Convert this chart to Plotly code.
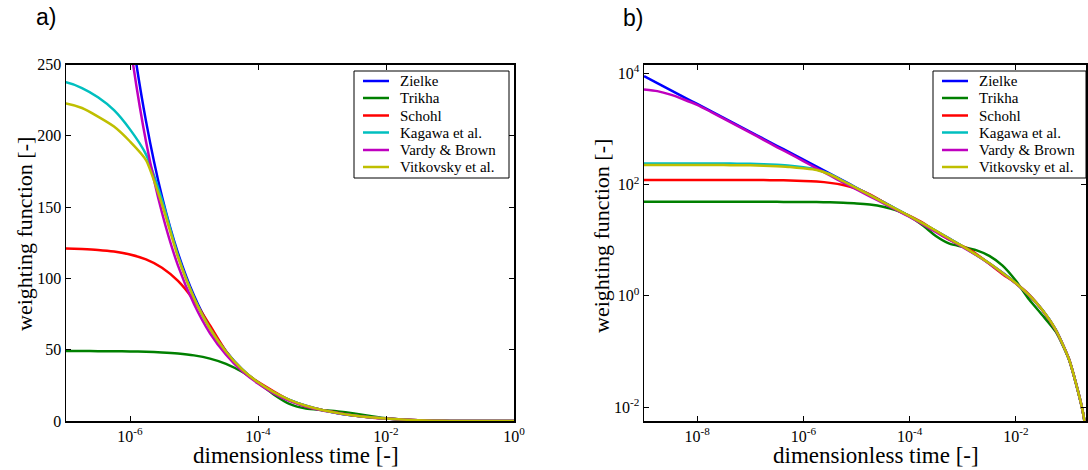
import plotly.graph_objects as go

# dimensionless time (tau), 0.25-decade steps from 1e-9 to 1
tau = [1e-9, 1.778e-9, 3.162e-9, 5.623e-9, 1e-8, 1.778e-8, 3.162e-8, 5.623e-8,
       1e-7, 1.778e-7, 3.162e-7, 5.623e-7, 1e-6, 1.778e-6, 3.162e-6, 5.623e-6,
       1e-5, 1.778e-5, 3.162e-5, 5.623e-5, 1e-4, 1.778e-4, 3.162e-4, 5.623e-4,
       1e-3, 1.778e-3, 3.162e-3, 5.623e-3, 1e-2, 1.778e-2, 3.162e-2, 5.623e-2,
       1e-1, 1.778e-1, 3.162e-1, 5.623e-1, 1.0]

zielke = [8919.5, 6688.4, 5015.3, 3760.5, 2819.7, 2114.2, 1585.1, 1188.4,
          890.8, 667.7, 500.4, 374.9, 280.85, 210.3, 157.4, 117.7,
          87.96, 65.65, 48.92, 36.38, 26.97, 19.92, 14.63, 10.67,
          7.705, 5.486, 3.829, 2.596, 1.687, 1.024, 0.5553, 0.2461,
          0.0724, 0.0092, 2.38e-4, 3.6e-7, 3.5e-12]

trikha = [49.1, 49.1, 49.099, 49.098, 49.097, 49.094, 49.09, 49.082,
          49.068, 49.042, 48.998, 48.919, 48.779, 48.532, 48.096, 47.331,
          46.008, 43.768, 40.104, 34.513, 26.91, 18.457, 11.782, 8.67,
          7.619, 6.634, 5.2245, 3.494, 1.864, 0.857, 0.4485, 0.2267,
          0.07136, 0.009149, 2.37e-4, 3.6e-7, 3.4e-12]

schohl = [121.445, 121.442, 121.434, 121.423, 121.402, 121.365, 121.298, 121.18,
          120.97, 120.599, 119.942, 118.787, 116.771, 113.306, 107.506, 98.214,
          84.505, 66.94, 48.876, 35.574, 27.432, 20.654, 14.405, 10.217,
          7.815, 5.716, 3.766, 2.459, 1.684, 1.054, 0.5512, 0.2431,
          0.07317, 0.0092, 2.3e-4, 3.3e-7, 2.8e-12]

kagawa = [240, 240, 240, 240, 239.8, 239.6, 239.2, 238.6,
          237.5, 233.5, 227, 218, 204.5, 187, 155, 116,
          86.5, 64.8, 48.5, 36.2, 27.0, 20.0, 14.6, 10.6,
          7.72, 5.5, 3.84, 2.58, 1.69, 1.028, 0.555, 0.246,
          0.0724, 0.0092, 2.4e-4, 3.6e-7, 3.5e-12]

vardy_brown = [5150, 4800, 4150, 3400, 2720, 2060, 1540, 1150,
               860, 640, 474, 356, 265, 196, 146, 109,
               82, 61.5, 46.5, 35, 26.3, 19.2, 13.9, 10.2,
               7.5, 5.45, 3.8, 2.56, 1.67, 1.02, 0.553, 0.245,
               0.0722, 0.0092, 2.4e-4, 3.6e-7, 3.5e-12]

vitkovsky = [226, 226, 225.9, 225.8, 225.6, 225.2, 224.6, 223.8,
             222.6, 219.5, 213.5, 206.5, 196, 183, 152, 115,
             86.3, 64.7, 48.6, 36.3, 27.1, 20.05, 14.7, 10.65,
             7.74, 5.52, 3.85, 2.58, 1.69, 1.03, 0.555, 0.246,
             0.0724, 0.0092, 2.4e-4, 3.6e-7, 3.5e-12]

series_names = ["Zielke", "Trikha", "Schohl", "Kagawa et al.", "Vardy & Brown", "Vitkovsky et al."]
series_values = [zielke, trikha, schohl, kagawa, vardy_brown, vitkovsky]
series_colors = ["#0000FF", "#008000", "#FF0000", "#00BFBF", "#BF00BF", "#BFBF00"]

xticks_a = [1e-6, 1e-4, 1e-2, 1]
xticks_a_text = ["10<sup>-6</sup>", "10<sup>-4</sup>", "10<sup>-2</sup>", "10<sup>0</sup>"]
yticks_a = [0, 50, 100, 150, 200, 250]
xticks_b = [1e-8, 1e-6, 1e-4, 1e-2]
xticks_b_text = ["10<sup>-8</sup>", "10<sup>-6</sup>", "10<sup>-4</sup>", "10<sup>-2</sup>"]
yticks_b = [1e-2, 1, 1e2, 1e4]
yticks_b_text = ["10<sup>-2</sup>", "10<sup>0</sup>", "10<sup>2</sup>", "10<sup>4</sup>"]

W, H = 1088, 470
SERIF = "Liberation Serif"

fig = go.Figure()
for xa, ya in (("x", "y"), ("x2", "y2")):
    for name, vals, col in zip(series_names, series_values, series_colors):
        fig.add_trace(go.Scatter(x=tau, y=vals, name=name, mode="lines",
                                 line=dict(color=col, width=2.5, shape="spline", smoothing=0.6),
                                 xaxis=xa, yaxis=ya, showlegend=False, hoverinfo="skip"))

axis_common = dict(showgrid=False, zeroline=False, showline=True, linecolor="black",
                   linewidth=1.5, mirror="allticks", ticks="inside", ticklen=5,
                   tickwidth=1, tickcolor="black", automargin=False,
                   tickfont=dict(family=SERIF, size=16, color="black"))

yb0, yb1 = (H - 421) / H, (H - 64.5) / H

fig.update_layout(
    width=W, height=H,
    margin=dict(l=0, r=0, t=0, b=0, autoexpand=False),
    paper_bgcolor="white", plot_bgcolor="white",
    font=dict(family=SERIF, size=16, color="black"),
    showlegend=False, hovermode=False,
    xaxis=dict(type="log", range=[-7, 0], domain=[66 / W, 514 / W], anchor="y",
               tickmode="array", tickvals=xticks_a, ticktext=xticks_a_text, **axis_common),
    yaxis=dict(range=[0, 250], domain=[yb0, yb1], anchor="x",
               tickmode="array", tickvals=yticks_a, **axis_common),
    xaxis2=dict(type="log", range=[-9, -0.68], domain=[644 / W, 1086 / W], anchor="y2",
                tickmode="array", tickvals=xticks_b, ticktext=xticks_b_text, **axis_common),
    yaxis2=dict(type="log", range=[-2.25, 4.16], domain=[yb0, yb1], anchor="x2",
                tickmode="array", tickvals=yticks_b, ticktext=yticks_b_text, **axis_common),
)

# legends (one per panel): box, line samples and entry labels
legend_boxes = [(354, 509, 363, 389, 398), (933, 1086, 942, 968, 977)]
row_y = [81, 98, 115.5, 132.5, 150, 167]
leg_top, leg_bottom = 71, 178
for bx0, bx1, lx0, lx1, tx in legend_boxes:
    fig.add_shape(type="rect", xref="paper", yref="paper",
                  x0=bx0 / W, x1=bx1 / W, y0=(H - leg_bottom) / H, y1=(H - leg_top) / H,
                  line=dict(color="black", width=1), fillcolor="white", layer="above")
    for name, col, ry in zip(series_names, series_colors, row_y):
        fig.add_shape(type="line", xref="paper", yref="paper",
                      x0=lx0 / W, x1=lx1 / W, y0=(H - ry) / H, y1=(H - ry) / H,
                      line=dict(color=col, width=2.5), layer="above")
        fig.add_annotation(text=name, xref="paper", yref="paper", x=tx / W, y=(H - ry) / H,
                           xanchor="left", yanchor="middle", showarrow=False,
                           font=dict(family=SERIF, size=15, color="black"))

xtitle_font = dict(family=SERIF, size=23, color="black")
ytitle_font = dict(family=SERIF, size=22, color="black")
annots = [
    dict(text="dimensionless time [-]", x=296 / W, y=(H - 455) / H, font=xtitle_font),
    dict(text="dimensionless time [-]", x=876 / W, y=(H - 455) / H, font=xtitle_font),
    dict(text="weighting function [-]", x=24 / W, y=(H - 234) / H, textangle=-90, font=ytitle_font),
    dict(text="weighting function [-]", x=601 / W, y=(H - 236) / H, textangle=-90, font=ytitle_font),
]
for a in annots:
    fig.add_annotation(xref="paper", yref="paper", showarrow=False,
                       xanchor="center", yanchor="middle", **a)

panel_font = dict(family="Liberation Sans", size=23, color="black")
fig.add_annotation(text="a)", xref="paper", yref="paper", x=46 / W, y=(H - 17) / H,
                   showarrow=False, xanchor="center", yanchor="middle", font=panel_font)
fig.add_annotation(text="b)", xref="paper", yref="paper", x=633 / W, y=(H - 18) / H,
                   showarrow=False, xanchor="center", yanchor="middle", font=panel_font)

fig.write_html("out.html", config={"displayModeBar": False, "staticPlot": True},
               post_script="document.body.style.margin='0px';document.body.style.overflow='hidden';")
